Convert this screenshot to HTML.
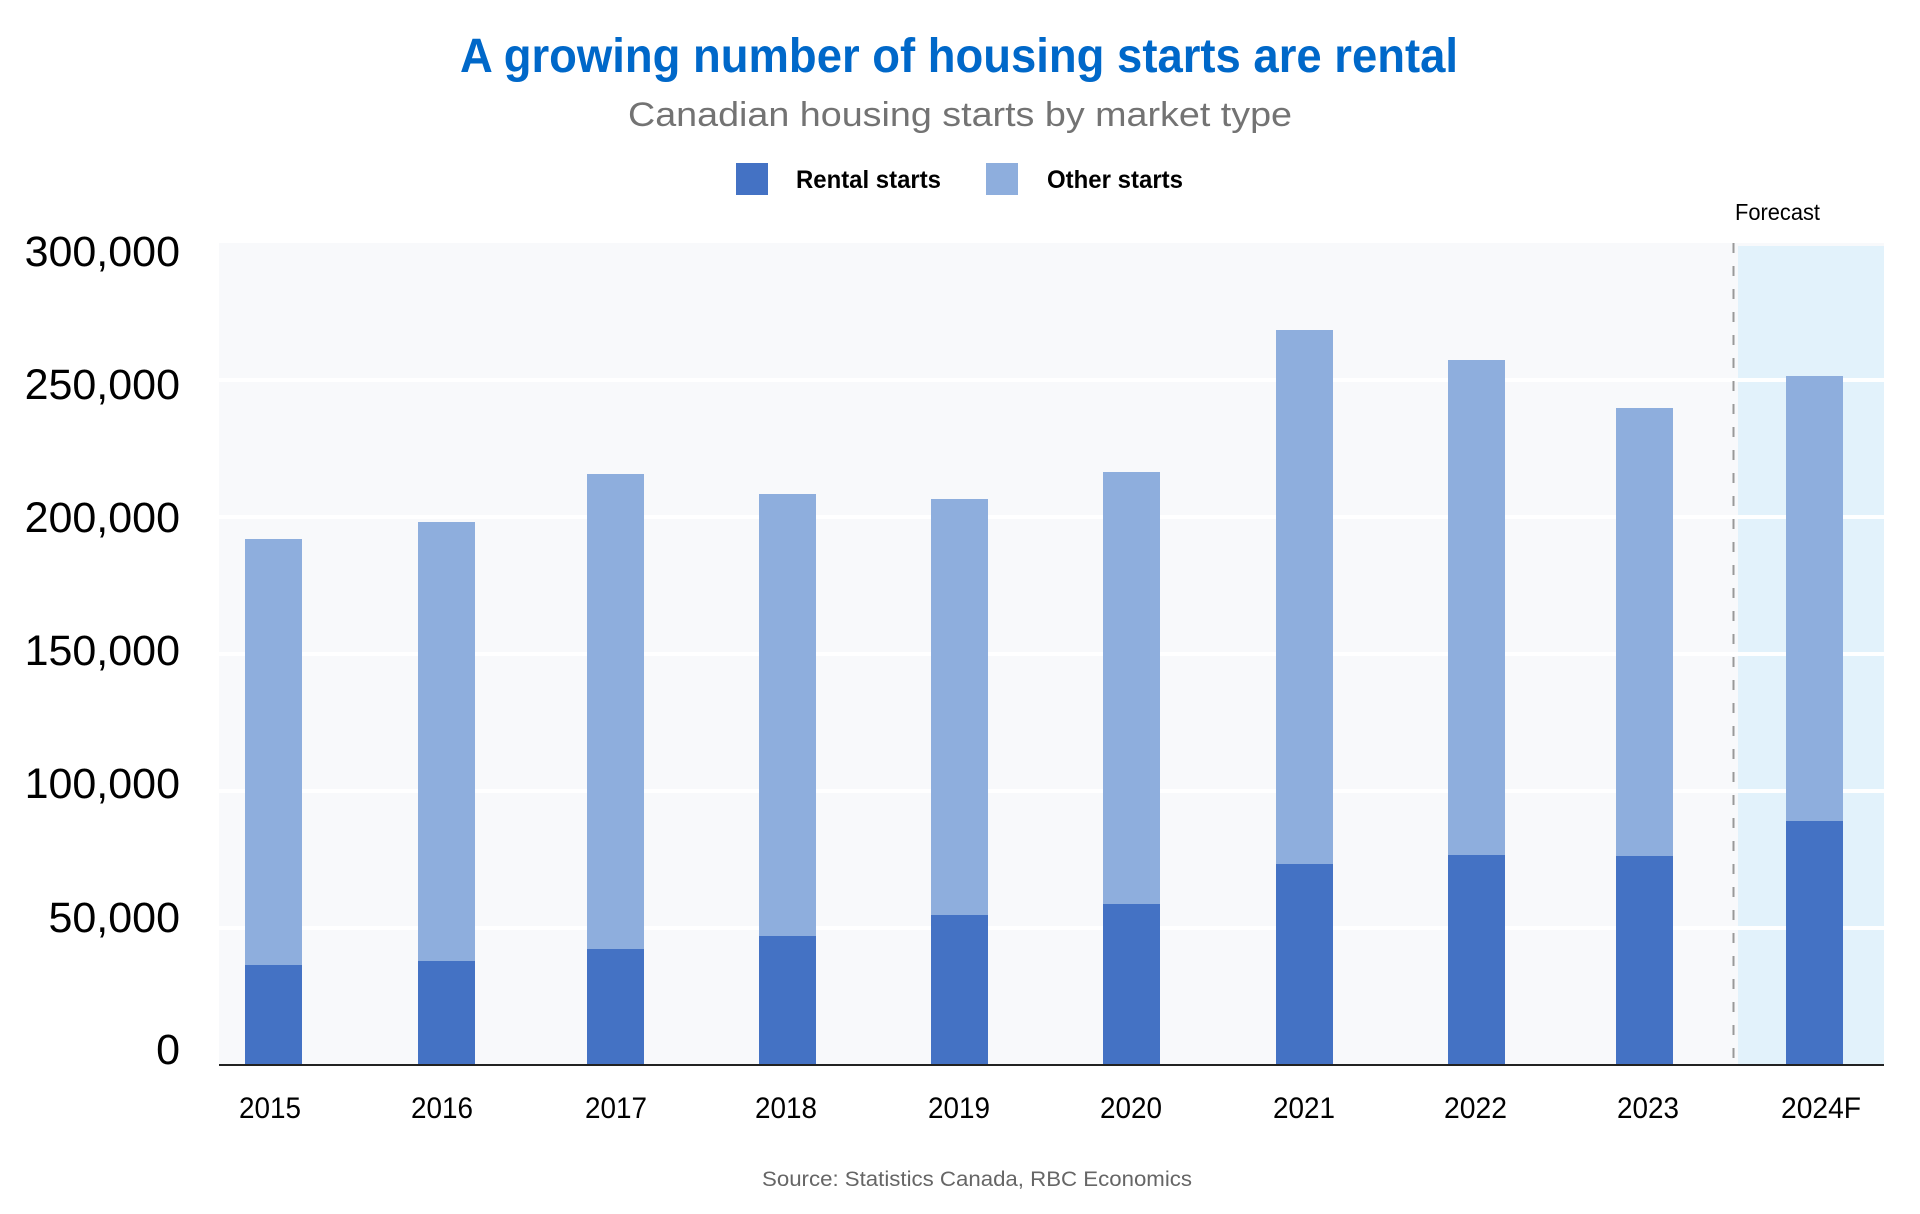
<!DOCTYPE html>
<html>
<head>
<meta charset="utf-8">
<style>
  html, body { margin: 0; padding: 0; background: #ffffff; }
  body { width: 1920px; height: 1214px; overflow: hidden; }
  svg { display: block; }
  text { font-family: "Liberation Sans", "DejaVu Sans", sans-serif; }
</style>
</head>
<body>
<svg width="1920" height="1214" viewBox="0 0 1920 1214" xmlns="http://www.w3.org/2000/svg">
  <rect x="0" y="0" width="1920" height="1214" fill="#ffffff"/>

  <!-- Title -->
  <text x="460" y="72" font-size="48" font-weight="bold" fill="#0068c9" textLength="998" lengthAdjust="spacingAndGlyphs">A growing number of housing starts are rental</text>
  <!-- Subtitle -->
  <text x="628" y="126" font-size="34" fill="#737373" textLength="664" lengthAdjust="spacingAndGlyphs">Canadian housing starts by market type</text>

  <!-- Legend -->
  <rect x="736" y="163" width="32" height="32" fill="#4472c4"/>
  <text x="796" y="188" font-size="25" font-weight="bold" fill="#000" textLength="145" lengthAdjust="spacingAndGlyphs">Rental starts</text>
  <rect x="986" y="163" width="32" height="32" fill="#8eaedd"/>
  <text x="1047" y="188" font-size="25" font-weight="bold" fill="#000" textLength="136" lengthAdjust="spacingAndGlyphs">Other starts</text>

  <!-- Forecast label -->
  <text x="1735" y="220" font-size="23" fill="#000" textLength="85" lengthAdjust="spacingAndGlyphs">Forecast</text>

  <!-- Plot background -->
  <rect x="219" y="243" width="1665" height="821" fill="#f8f9fb"/>
  <!-- Forecast shaded region -->
  <rect x="1738" y="246" width="146" height="818" fill="#e2f2fb"/>

  <!-- Gridlines (white) -->
  <g fill="#ffffff">
    <rect x="219" y="378" width="1665" height="4" opacity="0.95"/>
    <rect x="219" y="515" width="1665" height="4" opacity="0.95"/>
    <rect x="219" y="652" width="1665" height="4" opacity="0.95"/>
    <rect x="219" y="789" width="1665" height="4" opacity="0.95"/>
    <rect x="219" y="926" width="1665" height="4" opacity="0.95"/>
  </g>

  <!-- Dashed forecast divider -->
  <line x1="1733.5" y1="243" x2="1733.5" y2="1064" stroke="#999999" stroke-width="2" stroke-dasharray="10 13"/>

  <!-- Bars: other (light) -->
  <g fill="#8eaedd">
    <rect x="245" y="539" width="57" height="426"/>
    <rect x="418" y="522" width="57" height="439"/>
    <rect x="587" y="474" width="57" height="475"/>
    <rect x="759" y="494" width="57" height="442"/>
    <rect x="931" y="499" width="57" height="416"/>
    <rect x="1103" y="472" width="57" height="432"/>
    <rect x="1276" y="330" width="57" height="534"/>
    <rect x="1448" y="360" width="57" height="495"/>
    <rect x="1616" y="408" width="57" height="448"/>
    <rect x="1786" y="376" width="57" height="445"/>
  </g>
  <!-- Bars: rental (dark) -->
  <g fill="#4472c4">
    <rect x="245" y="965" width="57" height="99"/>
    <rect x="418" y="961" width="57" height="103"/>
    <rect x="587" y="949" width="57" height="115"/>
    <rect x="759" y="936" width="57" height="128"/>
    <rect x="931" y="915" width="57" height="149"/>
    <rect x="1103" y="904" width="57" height="160"/>
    <rect x="1276" y="864" width="57" height="200"/>
    <rect x="1448" y="855" width="57" height="209"/>
    <rect x="1616" y="856" width="57" height="208"/>
    <rect x="1786" y="821" width="57" height="243"/>
  </g>

  <!-- X axis line -->
  <rect x="219" y="1064" width="1665" height="2" fill="#222222"/>

  <!-- Y axis labels -->
  <g font-size="43" fill="#000" text-anchor="end">
    <text x="180" y="266">300,000</text>
    <text x="180" y="399">250,000</text>
    <text x="180" y="532">200,000</text>
    <text x="180" y="665">150,000</text>
    <text x="180" y="798">100,000</text>
    <text x="180" y="932">50,000</text>
    <text x="180" y="1064">0</text>
  </g>

  <!-- X axis labels -->
  <g font-size="30" fill="#000">
    <text x="239" y="1118" textLength="62" lengthAdjust="spacingAndGlyphs">2015</text>
    <text x="411" y="1118" textLength="62" lengthAdjust="spacingAndGlyphs">2016</text>
    <text x="585" y="1118" textLength="62" lengthAdjust="spacingAndGlyphs">2017</text>
    <text x="755" y="1118" textLength="62" lengthAdjust="spacingAndGlyphs">2018</text>
    <text x="928" y="1118" textLength="62" lengthAdjust="spacingAndGlyphs">2019</text>
    <text x="1100" y="1118" textLength="62" lengthAdjust="spacingAndGlyphs">2020</text>
    <text x="1273" y="1118" textLength="62" lengthAdjust="spacingAndGlyphs">2021</text>
    <text x="1444" y="1118" textLength="63" lengthAdjust="spacingAndGlyphs">2022</text>
    <text x="1617" y="1118" textLength="62" lengthAdjust="spacingAndGlyphs">2023</text>
    <text x="1781" y="1118" textLength="80" lengthAdjust="spacingAndGlyphs">2024F</text>
  </g>

  <!-- Source -->
  <text x="762" y="1186" font-size="21" fill="#666666" textLength="430" lengthAdjust="spacingAndGlyphs">Source: Statistics Canada, RBC Economics</text>
</svg>
</body>
</html>
